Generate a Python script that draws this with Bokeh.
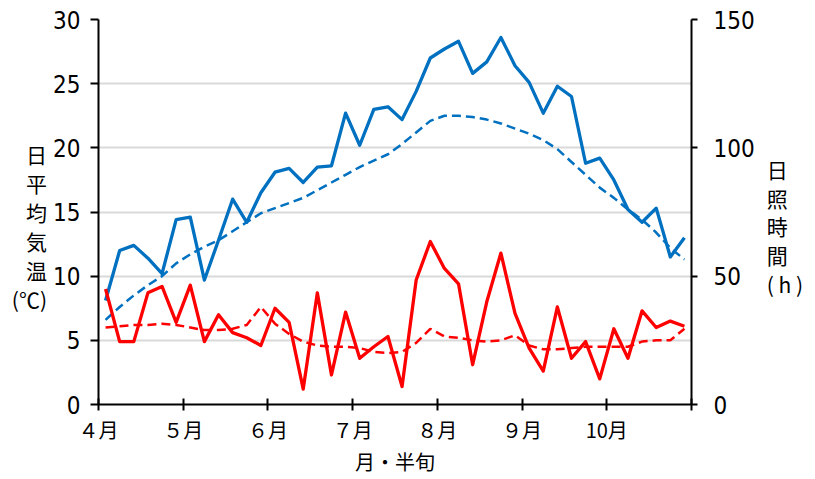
import numpy as np
from bokeh.plotting import figure
from bokeh.models import Range1d, LinearAxis, FixedTicker
from bokeh.embed import file_html
from bokeh.resources import INLINE

# 半旬 (5-day periods) from April to October: 42 periods
month_ticks = [0, 6, 12, 18, 24, 30, 36, 42]
month_labels = ["４月", "５月", "６月", "７月", "８月", "９月", "10月", ""]

# 日平均気温 (℃)
temp_actual = [8.1, 12.0, 12.4, 11.4, 10.2, 14.4, 14.6, 9.7, 12.8, 16.0,
               14.2, 16.5, 18.1, 18.4, 17.3, 18.5, 18.6, 22.7, 20.2, 23.0,
               23.2, 22.2, 24.4, 27.0, 27.7, 28.3, 25.8, 26.7, 28.6, 26.4,
               25.1, 22.7, 24.8, 24.0, 18.8, 19.2, 17.5, 15.2, 14.2, 15.3,
               11.5, 13.0]
temp_normal = [6.6, 7.6, 8.5, 9.3, 10.0, 11.0, 11.7, 12.3, 12.8, 13.5,
               14.2, 14.9, 15.3, 15.7, 16.1, 16.7, 17.3, 17.9, 18.5, 19.0,
               19.5, 20.3, 21.2, 22.1, 22.5, 22.5, 22.4, 22.2, 21.9, 21.5,
               21.1, 20.6, 19.9, 18.9, 17.9, 16.9, 16.1, 15.2, 14.4, 13.4,
               12.2, 11.3]
# 日照時間 (h)
sun_actual = [45, 24.5, 24.5, 43.5, 46, 32, 46.5, 24.5, 35, 28,
              26, 23, 37.5, 32, 6, 43.5, 11.5, 36, 18, 22.5,
              26.5, 7, 48.5, 63.5, 53, 47, 15.5, 40, 59, 35.5,
              22, 13, 38, 18, 24.5, 10, 29.5, 18, 36.5, 30,
              32.5, 30.5]
sun_normal = [30, 30.5, 31, 31, 31.5, 31, 30, 29, 29, 29.5,
              31, 38, 31.5, 27.5, 24.5, 23, 22.5, 22.5, 22, 20.5,
              20, 20.5, 24, 29.5, 26.5, 26, 25, 24.5, 25, 27,
              23, 21.5, 21.5, 22, 22.5, 22.5, 22.5, 22.5, 24.5, 25,
              25, 29.5]

left_title = "\n日\n平\n均\n気\n温\n(℃)"
right_title = "\n日\n照\n時\n間\n( h )"
x_title = "月・半旬"

x = np.arange(len(temp_actual)) + 0.5

BLUE = "#0070C0"
RED = "#FF0000"
NUM_FONT = "DejaVu Sans Condensed, Roboto, sans-serif"
JP_FONT = "Noto Sans CJK JP"

p = figure(width=813, height=479, x_range=Range1d(0, 42), y_range=Range1d(0, 30),
           output_backend="svg", toolbar_location=None,
           min_border_left=98, min_border_right=122, min_border_top=19, min_border_bottom=75)
p.outline_line_color = None
p.extra_y_ranges = {"h": Range1d(0, 150)}

# lines
p.line(x, temp_normal, color=BLUE, line_width=2.5, line_dash="9 5")
p.line(x, sun_normal, color=RED, line_width=2.5, line_dash="9 5", y_range_name="h")
p.line(x, temp_actual, color=BLUE, line_width=3.3, line_join="round")
p.line(x, sun_actual, color=RED, line_width=3.3, line_join="round", y_range_name="h")

# axes
xa = p.xaxis[0]
xa.ticker = FixedTicker(ticks=month_ticks)
xa.major_label_overrides = {t: l for t, l in zip(month_ticks, month_labels)}
xa.major_label_text_font = JP_FONT
xa.major_label_text_font_size = "20px"
xa.major_label_standoff = 4
xa.axis_label = x_title
xa.axis_label_text_font = JP_FONT
xa.axis_label_text_font_size = "20px"
xa.axis_label_text_font_style = "normal"
xa.axis_label_standoff = 0

ya = p.yaxis[0]
ya.ticker = FixedTicker(ticks=[0, 5, 10, 15, 20, 25, 30])
ya.major_label_text_font = NUM_FONT
ya.major_label_text_font_size = "24px"
ya.major_label_standoff = 10
ya.axis_label = left_title
ya.axis_label_orientation = "horizontal"
ya.axis_label_text_font = JP_FONT
ya.axis_label_text_font_size = "21px"
ya.axis_label_text_font_style = "normal"
ya.axis_label_text_line_height = 0.97
ya.axis_label_standoff = 3

ra = LinearAxis(y_range_name="h", ticker=FixedTicker(ticks=[0, 50, 100, 150]))
ra.major_label_text_font = NUM_FONT
ra.major_label_text_font_size = "24px"
ra.major_label_standoff = 16
ra.axis_label = right_title
ra.axis_label_orientation = "horizontal"
ra.axis_label_text_font = JP_FONT
ra.axis_label_text_font_size = "21px"
ra.axis_label_text_font_style = "normal"
ra.axis_label_text_line_height = 0.96
ra.axis_label_standoff = 9
p.add_layout(ra, "right")

for ax in [xa, ya, ra]:
    ax.axis_line_color = "black"
    ax.axis_line_width = 2
    ax.major_tick_line_color = "black"
    ax.major_tick_line_width = 2
    ax.minor_tick_line_color = None
    ax.major_label_text_color = "black"
    ax.axis_label_text_color = "black"
xa.major_tick_in = 6
xa.major_tick_out = 6
ya.major_tick_in = 0
ya.major_tick_out = 8
ra.major_tick_in = 0
ra.major_tick_out = 6

p.xgrid.grid_line_color = None
p.ygrid.grid_line_color = "#d9d9d9"
p.ygrid.grid_line_width = 2

open("out.html", "w").write(file_html(p, INLINE))
